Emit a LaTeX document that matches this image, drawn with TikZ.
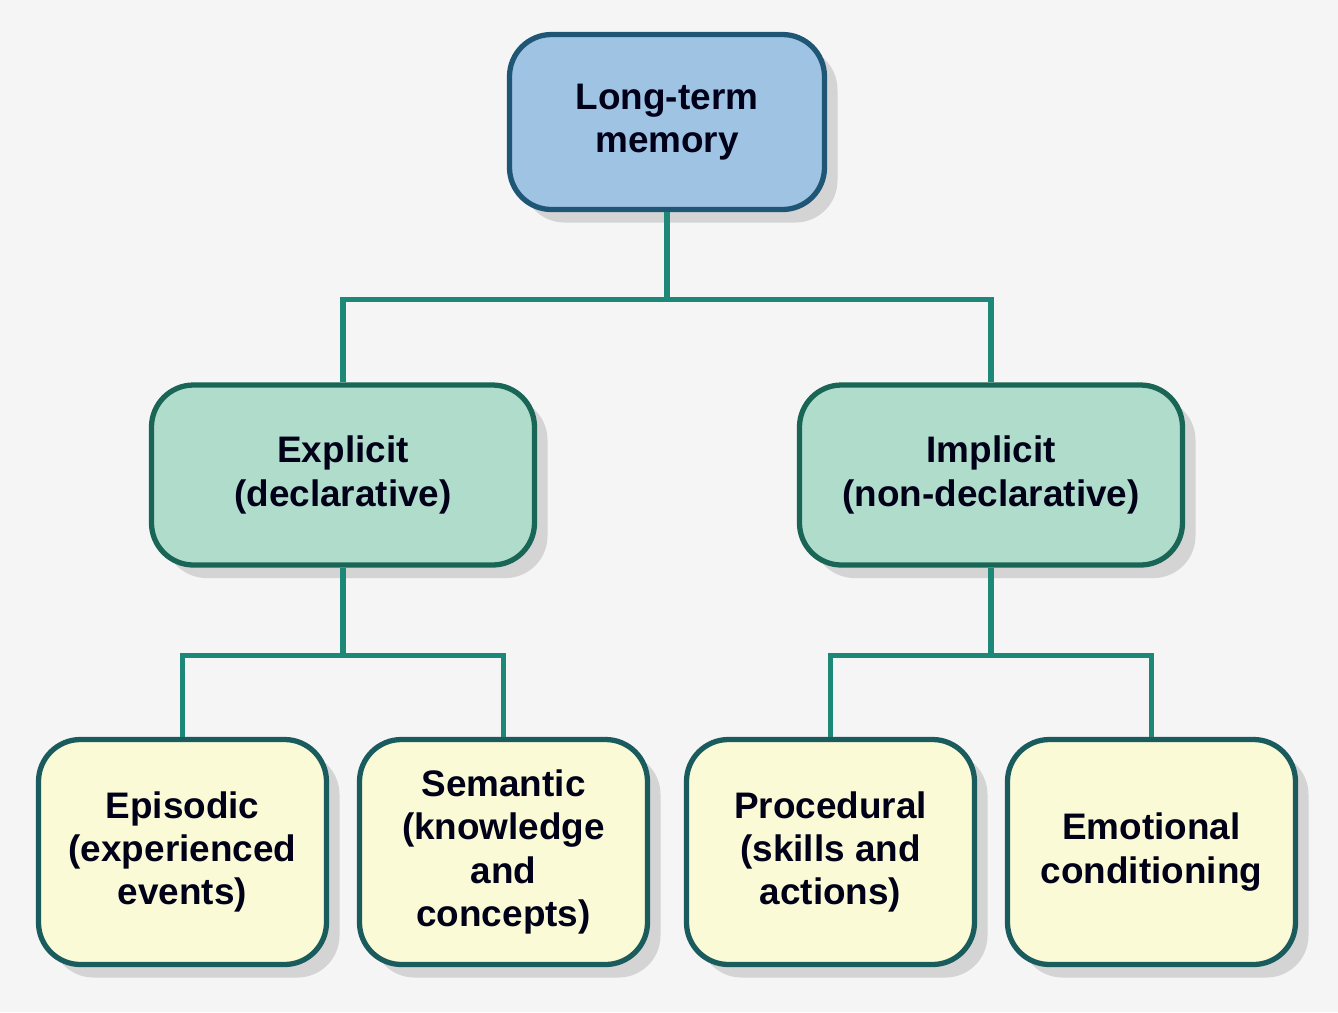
\documentclass[tikz,border=0pt]{standalone}
\usepackage{fontspec}
\setmainfont{Liberation Sans}
\usepackage{xcolor}
\usetikzlibrary{trees,shadows}

\definecolor{rootfill}{HTML}{9FC3E3}
\definecolor{rootdraw}{HTML}{1F5676}
\definecolor{midfill}{HTML}{B0DCCC}
\definecolor{middraw}{HTML}{1A6656}
\definecolor{leaffill}{HTML}{FAFAD6}
\definecolor{leafdraw}{HTML}{1A5C5E}
\definecolor{linkteal}{HTML}{1E8878}
\definecolor{pagegray}{HTML}{F5F5F5}

\begin{document}
\begin{tikzpicture}[
    level 1/.style = {level distance=3.53cm, sibling distance=6.48cm},
    level 2/.style = {level distance=3.77cm, sibling distance=3.21cm},
    edge from parent/.style = {draw=linkteal, line width=1.5pt},
    edge from parent path = {(\tikzparentnode.south) -- +(0,-0.875)
        -| (\tikzchildnode.north)},
    memorybox/.style = {shape=rectangle, rounded corners=0.42cm,
      draw, line width=1.5pt, align=center, text=black!90!blue,
      font=\fontsize{10.5}{12.3}\selectfont\bfseries,
      drop shadow={shadow xshift=0.13cm, shadow yshift=-0.13cm,
        opacity=0.28}},
    rootbox/.style = {memorybox, fill=rootfill, draw=rootdraw,
      minimum width=3.15cm, minimum height=1.75cm},
    kindbox/.style = {memorybox, fill=midfill, draw=middraw,
      minimum width=3.83cm, minimum height=1.80cm},
    leafbox/.style = {memorybox, fill=leaffill, draw=leafdraw,
      minimum width=2.88cm, minimum height=2.25cm}]

  % page background
  \fill[pagegray] (0,0) rectangle (13.38,-10.12);
  \useasboundingbox (0,0) rectangle (13.38,-10.12);

  \node[rootbox] (ltm) at (6.67,-1.22) {Long-term\\memory}
      child{node[kindbox] (explicit) {Explicit\\(declarative)}
              child{node[leafbox] (episodic) {Episodic\\(experienced\\events)}}
              child{node[leafbox] (semantic) {Semantic\\(knowledge\\and\\concepts)}}}
      child{node[kindbox] (implicit) {Implicit\\(non-declarative)}
              child{node[leafbox] (procedural) {Procedural\\(skills and\\actions)}}
              child{node[leafbox] (emotional) {Emotional\\conditioning}}};

\end{tikzpicture}
\end{document}
